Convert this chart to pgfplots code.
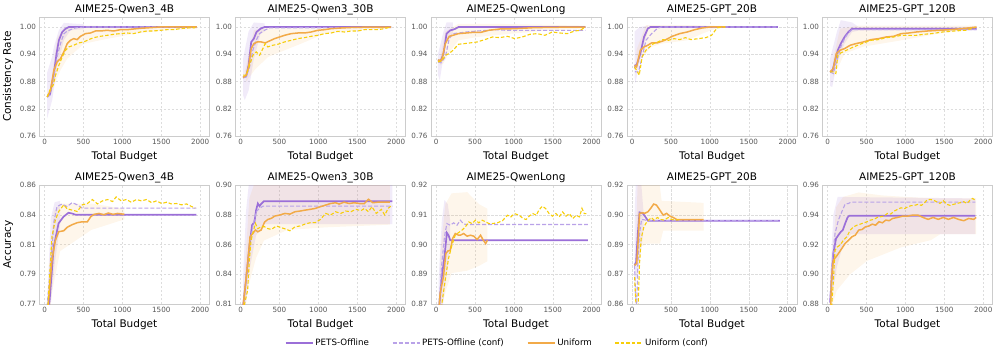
\documentclass[border=0pt]{standalone}
\usepackage{fontspec}
\setmainfont{DejaVu Sans}
\usepackage{pgfplots}
\pgfplotsset{compat=1.18}

\definecolor{petsc}{HTML}{9B6FD8}
\definecolor{petsconfc}{HTML}{B9A2E8}
\definecolor{unifc}{HTML}{F2AA48}
\definecolor{unifconfc}{HTML}{F7CE0A}
\definecolor{gridc}{HTML}{DDDDDD}
\definecolor{framec}{HTML}{CCCCCC}
\definecolor{tickc}{HTML}{555555}

\pgfplotsset{
  every axis title shift=0pt,
  panel/.style={
    anchor=north west, scale only axis, width=170pt, height=119pt,
    xmin=-65, xmax=2120, xtick={0,500,1000,1500,2000},
    xticklabels={0,500,1000,1500,2000},
    axis line style={draw=framec, line width=0.8pt},
    grid=major, major grid style={draw=gridc, line width=0.5pt, dash pattern=on 2.5pt off 1.5pt},
    major tick length=0pt,
    tick label style={font=\fontsize{7.2}{8.5}\selectfont, text=tickc},
    /pgf/number format/assume math mode=true,
    title style={font=\fontsize{10.5}{12}\selectfont, at={(0.5,1)}, anchor=base, yshift=4.5pt},
    label style={font=\fontsize{10.5}{12}\selectfont},
    xlabel={Total Budget},
  },
  toprow/.style={ymin=0.76, ymax=1.022,
    ytick={0.76,0.82,0.88,0.94,1.00}, yticklabels={0.76,0.82,0.88,0.94,1.00}},
  pets/.style={color=petsc, line width=1.7pt},
  petsconf/.style={color=petsconfc, line width=1.1pt, dash pattern=on 4pt off 2pt},
  unif/.style={color=unifc, line width=1.5pt},
  unifconf/.style={color=unifconfc, line width=1.1pt, dash pattern=on 3.5pt off 2pt},
  bandp/.style={fill=petsc, fill opacity=0.14, draw=none, forget plot},
  bando/.style={fill=unifc, fill opacity=0.11, draw=none, forget plot},
}

\begin{document}
\begin{tikzpicture}
\useasboundingbox (0pt,0pt) rectangle (996pt,-357pt);

% ---------------- top row: consistency rate ----------------
\begin{axis}[panel, toprow, at={(39.5pt,-17pt)}, title={AIME25-Qwen3\_4B}, ylabel={Consistency Rate}]
\addplot[bandp] coordinates {(34,0.90) (98,0.935) (120,0.956) (184,0.993) (248,1.009) (504,1.006) (504,0.995) (333,0.993) (248,0.971) (162,0.912) (98,0.839) (34,0.799)};
\addplot[bando] coordinates {(77,0.87) (162,0.975) (248,0.998) (500,1.003) (1958,1.001) (1958,0.996) (1573,0.993) (1145,0.985) (718,0.971) (504,0.963) (290,0.93) (205,0.905) (120,0.87) (77,0.85)};
\addplot[pets] coordinates {(34,0.846) (70,0.852) (120,0.898) (154,0.9415) (184,0.9707) (227,0.989) (269,0.996) (312,1.0) (1950,1.0)};
\addplot[petsconf] coordinates {(34,0.846) (70,0.850) (120,0.89) (162,0.935) (205,0.9635) (248,0.985) (290,0.991) (333,0.994) (397,0.998) (504,1.0) (1950,1.0)};
\addplot[unif] coordinates {(34,0.846) (77,0.861) (120,0.905) (162,0.9232) (205,0.9305) (248,0.9451) (291,0.9634) (333,0.9707) (376,0.9744) (419,0.9722) (462,0.9795) (526,0.9854) (590,0.9868) (654,0.9912) (718,0.9912) (804,0.9927) (889,0.9912) (974,0.9941) (1060,0.9941) (1145,0.9956) (1231,0.9971) (1359,0.9985) (1487,1.0) (1958,1.0)};
\addplot[unifconf] coordinates {(34,0.846) (68,0.861) (111,0.872) (141,0.8939) (184,0.9159) (227,0.9341) (269,0.9488) (312,0.9561) (376,0.9598) (440,0.9649) (504,0.9671) (568,0.9722) (633,0.9766) (718,0.9795) (804,0.9817) (889,0.9839) (974,0.9854) (1060,0.9868) (1145,0.9854) (1231,0.989) (1316,0.9912) (1402,0.9912) (1487,0.9927) (1573,0.9941) (1658,0.9941) (1744,0.9963) (1829,0.9978) (1936,0.9985)};
\end{axis}

\begin{axis}[panel, toprow, at={(235.5pt,-17pt)}, title={AIME25-Qwen3\_30B}]
\addplot[bandp] coordinates {(32,0.93) (103,0.99) (171,1.01) (308,1.008) (308,0.99) (257,0.985) (171,0.93) (103,0.86) (54,0.839) (32,0.85)};
\addplot[bando] coordinates {(54,0.90) (171,0.993) (400,1.0) (1935,1.001) (1935,0.997) (1506,0.993) (1079,0.985) (779,0.9634) (351,0.934) (179,0.905) (73,0.88)};
\addplot[pets] coordinates {(32,0.8888) (73,0.8917) (103,0.9159) (137,0.967) (171,0.9744) (205,0.989) (257,0.9963) (308,1.0) (1935,1.0)};
\addplot[petsconf] coordinates {(32,0.888) (73,0.890) (116,0.912) (158,0.949) (201,0.9707) (244,0.9854) (308,0.9927) (372,0.998) (1935,0.999)};
\addplot[unif] coordinates {(32,0.8888) (73,0.894) (103,0.912) (137,0.9524) (171,0.9634) (214,0.9671) (265,0.9671) (317,0.9649) (372,0.9693) (437,0.9744) (501,0.978) (565,0.9817) (651,0.9854) (736,0.9868) (822,0.9868) (907,0.989) (993,0.9927) (1079,0.9941) (1164,0.9963) (1293,0.9978) (1464,0.9993) (1935,1.0)};
\addplot[unifconf] coordinates {(32,0.894) (73,0.894) (116,0.9159) (158,0.9378) (201,0.9451) (244,0.9378) (287,0.9524) (317,0.9634) (351,0.9561) (415,0.9598) (479,0.962) (565,0.9671) (651,0.9707) (736,0.9744) (822,0.9766) (907,0.9795) (993,0.9817) (1079,0.9854) (1164,0.9868) (1250,0.9905) (1335,0.989) (1421,0.9912) (1507,0.9912) (1592,0.9941) (1678,0.9941) (1763,0.9941) (1849,0.9963) (1926,1.0)};
\end{axis}

\begin{axis}[panel, toprow, at={(431pt,-17pt)}, title={AIME25-QwenLong}]
\addplot[bandp] coordinates {(24,0.94) (96,0.99) (135,1.01) (217,1.01) (217,0.985) (135,0.97) (96,0.935) (48,0.883) (24,0.895)};
\addplot[bando] coordinates {(48,0.93) (120,0.99) (289,1.007) (771,1.007) (1918,1.003) (1918,0.997) (1494,0.993) (1012,0.986) (530,0.978) (289,0.9707) (169,0.944) (96,0.92) (48,0.915)};
\addplot[pets] coordinates {(24,0.9268) (58,0.925) (96,0.9415) (135,0.9854) (183,0.9927) (217,0.9941) (251,0.9963) (289,1.0) (1918,1.0)};
\addplot[petsconf] coordinates {(24,0.9232) (63,0.921) (120,0.9341) (169,0.9744) (217,0.9854) (289,0.9868) (386,0.989) (530,0.9912) (771,0.9941) (900,0.9927) (1918,0.9927)};
\addplot[unif] coordinates {(24,0.9268) (72,0.9268) (120,0.9634) (169,0.9795) (217,0.9817) (289,0.9854) (386,0.9868) (482,0.9883) (578,0.9883) (675,0.9927) (819,0.9956) (1012,0.9963) (1253,0.9985) (1494,0.9993) (1918,1.0)};
\addplot[unifconf] coordinates {(24,0.9232) (72,0.925) (120,0.9378) (169,0.9415) (217,0.9488) (289,0.962) (362,0.9634) (434,0.9649) (530,0.9671) (627,0.9722) (723,0.978) (819,0.9766) (916,0.9795) (1012,0.9744) (1108,0.978) (1205,0.9839) (1301,0.9854) (1398,0.9817) (1494,0.989) (1591,0.9868) (1687,0.9854) (1783,0.9912) (1855,0.9927) (1918,1.0)};
\end{axis}

\begin{axis}[panel, toprow, at={(627pt,-17pt)}, title={AIME25-GPT\_20B}]
\addplot[bandp] coordinates {(32,0.99) (100,1.0) (202,1.003) (202,0.99) (154,0.9634) (106,0.93) (43,0.876) (32,0.89)};
\addplot[bando] coordinates {(58,0.95) (178,1.004) (806,1.004) (1200,1.002) (1200,0.998) (1070,0.9963) (901,0.9854) (709,0.9707) (380,0.9634) (250,0.9561) (130,0.9341) (58,0.91)};
\addplot[pets] coordinates {(32,0.9159) (58,0.9159) (106,0.9415) (154,0.978) (202,0.9963) (236,1.0) (1875,1.0)};
\addplot[petsconf] coordinates {(32,0.9159) (43,0.9012) (82,0.9012) (120,0.9268) (178,0.9707) (251,0.9854) (323,0.9963) (371,1.0) (1875,1.0)};
\addplot[unif] coordinates {(32,0.9159) (58,0.912) (106,0.9488) (154,0.9561) (202,0.9598) (251,0.9649) (323,0.9649) (419,0.9707) (516,0.9795) (612,0.9854) (709,0.989) (805,0.9941) (901,0.9978) (998,1.0) (1200,1.0)};
\addplot[unifconf] coordinates {(32,0.912) (58,0.9049) (92,0.894) (130,0.9341) (178,0.9488) (227,0.9561) (275,0.9634) (333,0.9671) (395,0.9722) (468,0.9707) (540,0.9744) (612,0.9722) (685,0.9766) (757,0.9722) (853,0.9744) (950,0.9766) (1022,0.9817) (1070,0.9927) (1104,0.9985) (1166,1.0) (1200,1.0)};
\end{axis}

\begin{axis}[panel, toprow, at={(822.5pt,-17pt)}, title={AIME25-GPT\_120B}]
\addplot[bandp] coordinates {(32,0.93) (121,0.99) (170,1.015) (315,1.01) (400,1.0) (1916,1.0) (1916,0.992) (400,0.992) (315,0.989) (218,0.9634) (121,0.92) (60,0.868) (32,0.87)};
\addplot[bando] coordinates {(73,0.93) (160,0.9963) (400,1.003) (1916,1.003) (1916,0.9963) (1431,0.9854) (946,0.9707) (461,0.9568) (218,0.9415) (160,0.92) (73,0.89)};
\addplot[pets] coordinates {(32,0.9012) (63,0.9034) (97,0.9268) (131,0.9488) (170,0.9634) (218,0.978) (267,0.989) (315,0.9963) (1916,0.9963)};
\addplot[petsconf] coordinates {(32,0.9012) (73,0.8976) (121,0.9268) (170,0.9561) (218,0.9744) (267,0.9868) (315,0.9941) (1916,0.9941)};
\addplot[unif] coordinates {(32,0.9012) (73,0.9085) (112,0.9415) (160,0.9488) (218,0.9524) (291,0.9598) (364,0.9634) (461,0.9671) (558,0.9722) (655,0.9744) (752,0.978) (849,0.9795) (946,0.9854) (1043,0.9868) (1140,0.989) (1285,0.9912) (1431,0.9927) (1576,0.9941) (1722,0.9963) (1916,1.0)};
\addplot[unifconf] coordinates {(32,0.9012) (73,0.9012) (107,0.8976) (131,0.9378) (170,0.9429) (243,0.9488) (315,0.9546) (388,0.9598) (461,0.9649) (558,0.9707) (655,0.9722) (752,0.9766) (849,0.978) (946,0.9817) (1043,0.9817) (1140,0.9817) (1237,0.9839) (1334,0.9854) (1479,0.989) (1625,0.9912) (1770,0.9927) (1892,0.9985)};
\end{axis}

% ---------------- bottom row: accuracy ----------------
\begin{axis}[panel, at={(39.5pt,-185pt)}, title={AIME25-Qwen3\_4B}, ylabel={Accuracy},
  ymin=0.77, ymax=0.86, ytick={0.77,0.7925,0.815,0.8375,0.86}, yticklabels={0.77,0.79,0.81,0.84,0.86},
  legend columns=4,
  legend style={at={(2.693,-0.328)}, anchor=center, draw=none, fill=none,
    font=\fontsize{8.7}{10}\selectfont, /tikz/every even column/.append style={column sep=21pt}},
  legend image code/.code={\draw[#1] (0pt,0pt) -- (27pt,0pt);}]
\addplot[bandp] coordinates {(32,0.77) (80,0.835) (130,0.847) (200,0.848) (200,0.83) (130,0.80) (80,0.77) (32,0.75)};
\addplot[bando] coordinates {(60,0.80) (120,0.84) (200,0.846) (600,0.846) (1025,0.842) (1025,0.834) (600,0.826) (400,0.818) (200,0.81) (100,0.78) (60,0.76)};
\addplot[pets] coordinates {(32,0.765) (64,0.772) (117,0.813) (180,0.831) (243,0.836) (308,0.839) (350,0.8385) (400,0.8375) (1950,0.8375)};
\addlegendentry{PETS-Offline}
\addplot[petsconf] coordinates {(32,0.768) (80,0.80) (120,0.832) (160,0.8437) (225,0.8456) (290,0.8437) (355,0.8467) (420,0.845) (485,0.8425) (1950,0.8425)};
\addlegendentry{PETS-Offline (conf)}
\addplot[unif] coordinates {(40,0.765) (95,0.803) (139,0.818) (182,0.8247) (247,0.8254) (290,0.828) (355,0.830) (420,0.8315) (485,0.8322) (550,0.8322) (593,0.836) (637,0.8378) (700,0.8385) (760,0.8375) (820,0.8388) (880,0.8378) (940,0.8385) (1005,0.838) (1025,0.838)};
\addlegendentry{Uniform}
\addplot[unifconf] coordinates {(40,0.765) (95,0.821) (139,0.8335) (182,0.840) (247,0.845) (290,0.842) (355,0.841) (420,0.840) (485,0.845) (550,0.846) (615,0.849) (680,0.8457) (745,0.848) (810,0.849) (875,0.8475) (920,0.851) (985,0.848) (1050,0.849) (1115,0.847) (1180,0.849) (1245,0.848) (1310,0.849) (1375,0.8467) (1440,0.848) (1505,0.846) (1570,0.847) (1630,0.8457) (1695,0.846) (1760,0.845) (1825,0.8457) (1890,0.8437) (1935,0.8425)};
\addlegendentry{Uniform (conf)}
\end{axis}

\begin{axis}[panel, at={(235.5pt,-185pt)}, title={AIME25-Qwen3\_30B},
  ymin=0.81, ymax=0.90, ytick={0.81,0.8325,0.855,0.8775,0.90}, yticklabels={0.81,0.84,0.86,0.88,0.90}]
\addplot[bandp] coordinates {(32,0.83) (70,0.88) (113,0.905) (1950,0.905) (1950,0.8705) (300,0.8705) (200,0.862) (113,0.835) (70,0.81) (32,0.80)};
\addplot[bando] coordinates {(60,0.84) (113,0.89) (200,0.905) (1918,0.905) (1918,0.87) (1100,0.868) (600,0.866) (300,0.858) (200,0.845) (130,0.83) (91,0.82) (60,0.81)};
\addplot[pets] coordinates {(32,0.808) (70,0.828) (113,0.853) (148,0.8697) (178,0.872) (200,0.881) (222,0.886) (244,0.884) (265,0.8857) (300,0.8877) (1950,0.8877)};
\addplot[petsconf] coordinates {(32,0.808) (70,0.83) (113,0.853) (157,0.8684) (200,0.8798) (244,0.8823) (287,0.884) (1950,0.884)};
\addplot[unif] coordinates {(32,0.808) (91,0.8406) (122,0.861) (157,0.8633) (191,0.866) (222,0.8646) (265,0.866) (309,0.872) (352,0.874) (396,0.8748) (439,0.8765) (504,0.8773) (570,0.8785) (635,0.878) (700,0.8798) (765,0.8803) (830,0.881) (896,0.8816) (961,0.8823) (1027,0.8836) (1092,0.8848) (1157,0.886) (1222,0.8866) (1266,0.8856) (1331,0.887) (1396,0.886) (1461,0.8866) (1527,0.886) (1592,0.886) (1644,0.8892) (1700,0.8866) (1766,0.887) (1831,0.887) (1918,0.887)};
\addplot[unifconf] coordinates {(32,0.805) (91,0.8204) (113,0.843) (135,0.858) (157,0.8633) (191,0.871) (222,0.867) (265,0.8684) (309,0.8684) (352,0.867) (396,0.8664) (461,0.869) (526,0.8677) (591,0.8664) (635,0.8654) (700,0.8684) (765,0.869) (830,0.8705) (896,0.8715) (961,0.8715) (1027,0.874) (1092,0.8785) (1157,0.8773) (1222,0.8798) (1288,0.8785) (1353,0.8803) (1418,0.8798) (1483,0.8816) (1548,0.8806) (1592,0.8823) (1644,0.8798) (1688,0.8836) (1744,0.8785) (1810,0.8816) (1853,0.8773) (1897,0.8823) (1931,0.884)};
\end{axis}

\begin{axis}[panel, at={(431pt,-185pt)}, title={AIME25-QwenLong},
  ymin=0.87, ymax=0.92, ytick={0.87,0.8825,0.895,0.9075,0.92}, yticklabels={0.87,0.89,0.90,0.91,0.92}]
\addplot[bandp] coordinates {(32,0.88) (74,0.905) (108,0.9137) (150,0.912) (182,0.905) (182,0.895) (150,0.885) (108,0.875) (74,0.865) (32,0.86)};
\addplot[bando] coordinates {(52,0.89) (120,0.912) (200,0.9165) (400,0.917) (550,0.912) (660,0.910) (660,0.888) (550,0.886) (400,0.884) (200,0.883) (120,0.875) (52,0.865)};
\addplot[pets] coordinates {(32,0.866) (74,0.8814) (108,0.8898) (139,0.8999) (160,0.8989) (182,0.8968) (1950,0.8968)};
\addplot[petsconf] coordinates {(32,0.866) (74,0.887) (108,0.8982) (139,0.9038) (182,0.9031) (225,0.9041) (269,0.9031) (312,0.9052) (355,0.9036) (400,0.9034) (1950,0.9034)};
\addplot[unif] coordinates {(32,0.866) (52,0.8744) (95,0.8814) (126,0.8912) (152,0.8923) (182,0.8925) (212,0.8975) (247,0.8996) (282,0.899) (312,0.8989) (355,0.8996) (399,0.8985) (442,0.8989) (485,0.8985) (528,0.8971) (572,0.8989) (602,0.8971) (637,0.8954) (660,0.8968)};
\addplot[unifconf] coordinates {(52,0.866) (74,0.87) (117,0.88) (160,0.8891) (204,0.8947) (247,0.899) (290,0.900) (333,0.901) (377,0.9024) (420,0.9045) (463,0.9038) (507,0.9052) (550,0.9041) (593,0.9052) (637,0.9045) (680,0.9038) (723,0.9038) (788,0.9041) (853,0.905) (918,0.9073) (961,0.9066) (1005,0.908) (1070,0.9073) (1114,0.906) (1157,0.9055) (1200,0.907) (1244,0.908) (1288,0.9073) (1322,0.9095) (1366,0.9111) (1409,0.9101) (1453,0.908) (1496,0.9069) (1540,0.908) (1583,0.9066) (1627,0.9087) (1670,0.9069) (1714,0.908) (1757,0.9059) (1800,0.9073) (1844,0.9066) (1875,0.9102) (1905,0.908) (1931,0.908)};
\end{axis}

\begin{axis}[panel, at={(627pt,-185pt)}, title={AIME25-GPT\_20B},
  ymin=0.86, ymax=0.92, ytick={0.86,0.875,0.89,0.905,0.92}, yticklabels={0.86,0.87,0.89,0.90,0.92}]
\addplot[bandp] coordinates {(32,0.905) (52,0.925) (110,0.925) (150,0.905) (150,0.898) (110,0.885) (74,0.875) (32,0.872)};
\addplot[bando] coordinates {(60,0.905) (74,0.925) (340,0.925) (380,0.912) (920,0.911) (920,0.897) (400,0.897) (360,0.8905) (200,0.8905) (120,0.889) (74,0.88) (60,0.875)};
\addplot[pets] coordinates {(32,0.8795) (52,0.8812) (74,0.8955) (96,0.9062) (139,0.9057) (170,0.904) (204,0.902) (1900,0.902)};
\addplot[petsconf] coordinates {(32,0.8795) (45,0.865) (60,0.858) (74,0.88) (96,0.8955) (122,0.9026) (152,0.9025) (200,0.902) (1900,0.902)};
\addplot[unif] coordinates {(32,0.8795) (60,0.8804) (74,0.8888) (96,0.9057) (139,0.906) (161,0.9057) (204,0.9065) (239,0.9082) (278,0.9104) (313,0.9099) (357,0.9074) (400,0.9048) (444,0.9057) (487,0.9043) (530,0.9036) (574,0.9026) (920,0.9026)};
\addplot[unifconf] coordinates {(32,0.8737) (50,0.86) (75,0.855) (96,0.8804) (117,0.893) (152,0.8989) (183,0.901) (213,0.9023) (248,0.9036) (283,0.9023) (326,0.9036) (370,0.9026) (413,0.9023) (465,0.9036) (509,0.9026) (552,0.9023) (600,0.9025)};
\end{axis}

\begin{axis}[panel, at={(822.5pt,-185pt)}, title={AIME25-GPT\_120B},
  ymin=0.88, ymax=0.96, ytick={0.88,0.90,0.92,0.94,0.96}, yticklabels={0.88,0.90,0.92,0.94,0.96}]
\addplot[bandp] coordinates {(32,0.895) (74,0.94) (130,0.952) (1900,0.951) (1900,0.927) (300,0.927) (200,0.92) (120,0.905) (74,0.89) (32,0.877)};
\addplot[bando] coordinates {(60,0.91) (110,0.945) (200,0.952) (400,0.955) (700,0.953) (1000,0.952) (1400,0.951) (1910,0.951) (1910,0.927) (1450,0.927) (1330,0.923) (940,0.918) (507,0.909) (290,0.900) (117,0.889) (74,0.882) (60,0.875)};
\addplot[pets] coordinates {(32,0.881) (52,0.896) (74,0.914) (109,0.924) (139,0.9263) (170,0.9285) (196,0.9297) (226,0.9341) (257,0.9382) (278,0.9393) (1900,0.9393)};
\addplot[petsconf] coordinates {(32,0.881) (52,0.905) (96,0.9274) (139,0.9364) (183,0.942) (226,0.9472) (270,0.9476) (300,0.9485) (1900,0.9485)};
\addplot[unif] coordinates {(40,0.879) (52,0.8982) (74,0.9094) (109,0.9117) (139,0.9139) (183,0.9173) (226,0.9207) (270,0.9229) (313,0.9252) (357,0.9263) (400,0.9297) (444,0.9301) (487,0.9319) (530,0.9324) (574,0.9337) (618,0.933) (661,0.9353) (705,0.9346) (748,0.9364) (792,0.936) (835,0.9375) (900,0.9382) (966,0.9391) (1031,0.9391) (1096,0.9398) (1161,0.9398) (1227,0.9382) (1292,0.9369) (1357,0.9382) (1422,0.9369) (1488,0.9382) (1553,0.9369) (1618,0.9382) (1683,0.9369) (1749,0.936) (1814,0.9375) (1879,0.9369) (1910,0.9382)};
\addplot[unifconf] coordinates {(52,0.878) (74,0.895) (96,0.9162) (126,0.9184) (161,0.9196) (204,0.9229) (248,0.9252) (291,0.9297) (335,0.9319) (378,0.933) (422,0.9337) (465,0.9346) (509,0.9353) (552,0.9364) (596,0.9369) (639,0.9382) (683,0.9387) (726,0.9391) (770,0.9409) (813,0.9405) (857,0.9425) (900,0.9436) (944,0.9447) (987,0.944) (1031,0.9454) (1074,0.9461) (1118,0.9463) (1161,0.947) (1205,0.9463) (1240,0.9476) (1270,0.9495) (1313,0.9503) (1357,0.9499) (1400,0.9488) (1444,0.9476) (1488,0.9495) (1531,0.947) (1575,0.9463) (1618,0.947) (1662,0.9476) (1705,0.9481) (1749,0.9488) (1792,0.9476) (1836,0.9501) (1866,0.951) (1901,0.9495)};
\end{axis}
\end{tikzpicture}
\end{document}
